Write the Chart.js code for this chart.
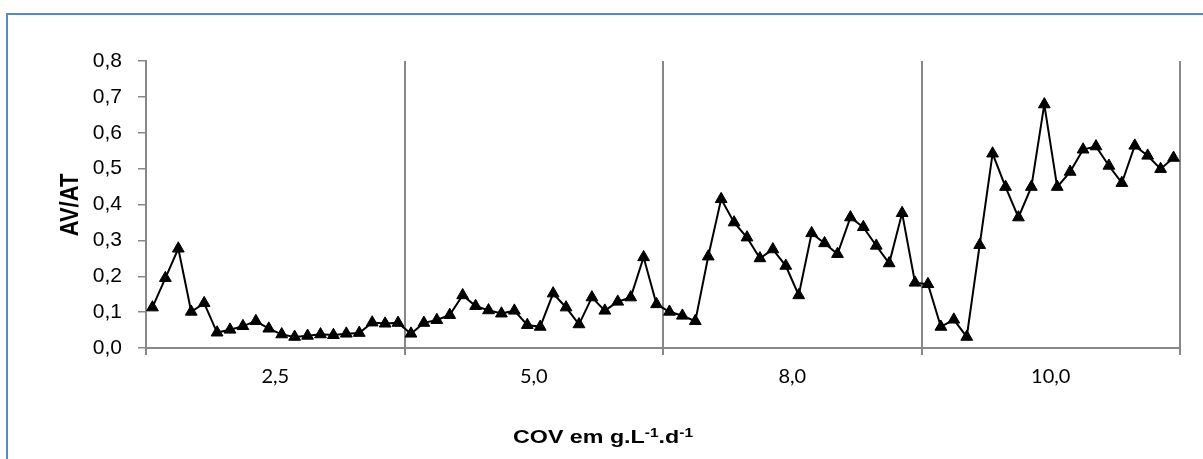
<!DOCTYPE html>
<html>
<head>
<meta charset="utf-8">
<script src="https://cdn.jsdelivr.net/npm/chart.js"></script>
<style>
  html, body { margin: 0; padding: 0; background: #fff; }
  #wrap { width: 1203px; height: 459px; }
</style>
</head>
<body>
<div id="wrap"><canvas id="chartAv" width="1203" height="459"></canvas></div>
<script>
// grupos de COV (g.L-1.d-1)
const groupLabels = ['2,5', '5,0', '8,0', '10,0'];

// AV/AT por grupo, 20 pontos cada
const avAt25 = [0.113, 0.195, 0.277, 0.101, 0.125, 0.043, 0.051, 0.061, 0.075, 0.054,
                0.038, 0.031, 0.034, 0.038, 0.036, 0.040, 0.042, 0.071, 0.068, 0.070];
const avAt50 = [0.040, 0.070, 0.078, 0.092, 0.147, 0.117, 0.105, 0.096, 0.104, 0.064,
                0.059, 0.152, 0.113, 0.066, 0.141, 0.104, 0.129, 0.141, 0.253, 0.122];
const avAt80 = [0.101, 0.090, 0.075, 0.255, 0.415, 0.350, 0.308, 0.250, 0.275, 0.229,
                0.147, 0.320, 0.292, 0.262, 0.364, 0.337, 0.285, 0.236, 0.376, 0.182];
const avAt100 = [0.178, 0.059, 0.079, 0.031, 0.287, 0.542, 0.449, 0.364, 0.449, 0.679,
                 0.449, 0.491, 0.553, 0.562, 0.508, 0.460, 0.564, 0.536, 0.499, 0.530];

const yTickLabels = ['0,0', '0,1', '0,2', '0,3', '0,4', '0,5', '0,6', '0,7', '0,8'];

const groups = [avAt25, avAt50, avAt80, avAt100];
const perGroup = avAt25.length;
const values = [].concat(...groups);
const labels = values.map((v, i) => groupLabels[Math.floor(i / perGroup)] + ' #' + (i % perGroup + 1));

const axisGray = '#888888';

// moldura azul + titulos dos eixos (com sobrescritos)
const extras = {
  id: 'extras',
  beforeDraw(chart) {
    const c = chart.ctx;
    c.save();
    c.fillStyle = '#fff';
    c.fillRect(0, 0, chart.width, chart.height);
    c.strokeStyle = '#5A88C6';
    c.lineWidth = 2;
    c.beginPath();
    c.moveTo(7, chart.height + 2);
    c.lineTo(7, 14);
    c.lineTo(chart.width + 2, 14);
    c.stroke();
    c.restore();
  },
  afterDraw(chart) {
    const c = chart.ctx;
    c.save();
    c.fillStyle = '#000';
    c.textBaseline = 'alphabetic';

    // titulo do eixo y
    c.save();
    c.translate(78, 205);
    c.rotate(-Math.PI / 2);
    c.scale(1, 1.2);
    c.font = 'bold 22px "Liberation Sans", Arial, sans-serif';
    c.textAlign = 'center';
    c.fillText('AV/AT', 0, 0);
    c.restore();

    // titulo do eixo x: COV em g.L-1.d-1
    const big = 'bold 18px "Liberation Sans", Arial, sans-serif';
    const small = 'bold 12px "Liberation Sans", Arial, sans-serif';
    const parts = [['COV em g.L', big, 0], ['-1', small, -6], ['.d', big, 0], ['-1', small, -6]];
    let w = 0;
    parts.forEach(p => { c.font = p[1]; w += c.measureText(p[0]).width; });
    const sx = 180 / w;
    c.translate(513, 443);
    c.scale(sx, 1);
    let x = 0;
    parts.forEach(p => {
      c.font = p[1];
      c.textAlign = 'left';
      c.fillText(p[0], x, p[2]);
      x += c.measureText(p[0]).width;
    });
    c.restore();
  }
};

new Chart(document.getElementById('chartAv').getContext('2d'), {
  type: 'line',
  data: {
    labels: labels,
    datasets: [{
      data: values,
      borderColor: '#000',
      borderWidth: 2,
      pointStyle: 'triangle',
      pointRadius: 6.8,
      pointBackgroundColor: '#000',
      pointBorderColor: '#000',
      pointBorderWidth: 1,
      pointHoverRadius: 6.8,
      tension: 0,
      fill: false
    }]
  },
  options: {
    responsive: false,
    animation: false,
    devicePixelRatio: 1,
    layout: { padding: { left: 0, top: 61, right: 23, bottom: 64 } },
    plugins: {
      legend: { display: false },
      tooltip: { enabled: false }
    },
    scales: {
      x: {
        type: 'category',
        offset: true,
        weight: 0,
        afterFit: s => { s.height = 7; },
        ticks: { display: false, autoSkip: false },
        grid: {
          offset: true,
          drawOnChartArea: true,
          drawTicks: true,
          tickLength: 7,
          lineWidth: 2,
          // so as divisas entre grupos
          color: ctx => (ctx.index === undefined || ctx.index % perGroup === 0) ? axisGray : 'rgba(0,0,0,0)'
        },
        border: { display: true, color: axisGray, width: 2 }
      },
      xg: {
        type: 'category',
        position: 'bottom',
        labels: groupLabels,
        offset: true,
        weight: 1,
        afterFit: s => { s.height = 40; },
        grid: { display: false, drawTicks: false },
        border: { display: false },
        ticks: {
          padding: 10,
          color: '#000',
          font: { family: 'Lato, "Open Sans", sans-serif', size: 20 }
        }
      },
      y: {
        min: 0,
        max: 0.8,
        afterFit: s => { s.width = 146; },
        ticks: {
          stepSize: 0.1,
          padding: 16,
          color: '#000',
          font: { family: '"Liberation Sans", Arial, sans-serif', size: 21 },
          callback: (v, i) => yTickLabels[i]
        },
        grid: {
          drawOnChartArea: false,
          drawTicks: true,
          tickLength: 8,
          lineWidth: 1.5,
          color: axisGray
        },
        border: { display: true, color: axisGray, width: 2 }
      }
    }
  },
  plugins: [extras]
});
</script>
</body>
</html>
